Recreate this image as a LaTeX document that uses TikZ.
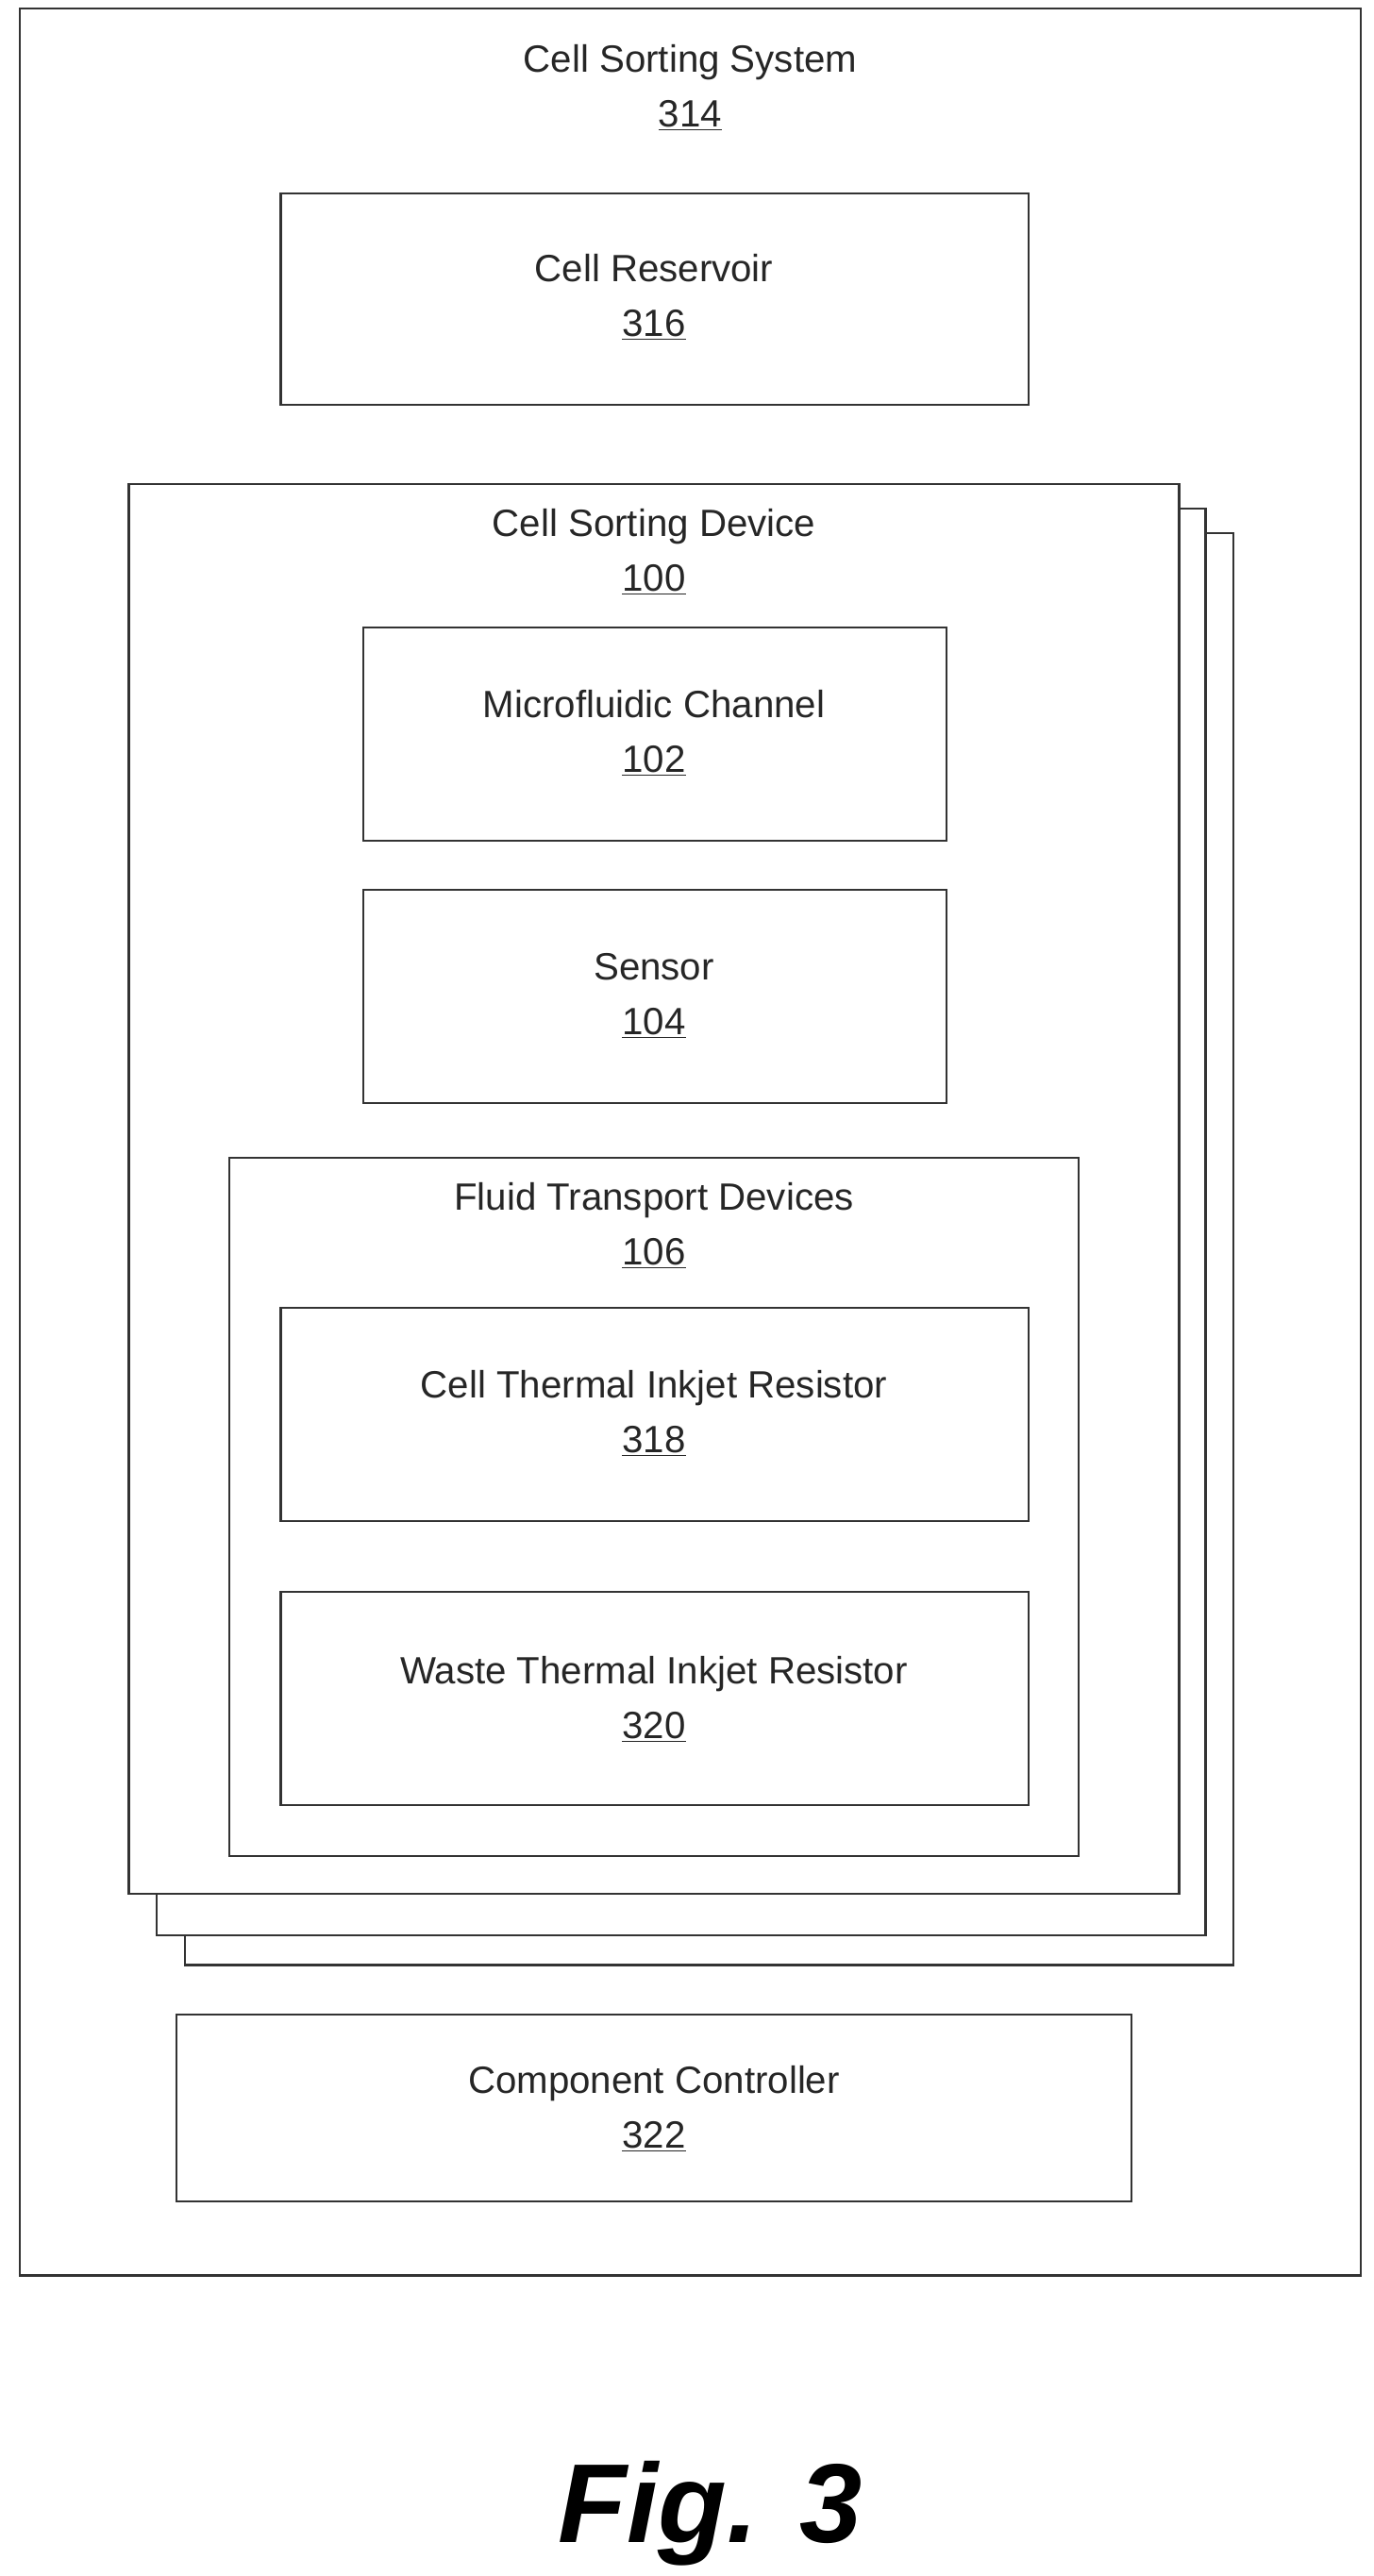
\documentclass[tikz,border=0pt]{standalone}
\usepackage{fontspec}
\setmainfont{Liberation Sans}
\begin{document}
\begin{tikzpicture}[x=1pt,y=-1pt,
  box/.style={draw=black!80,line width=1.3pt,fill=white},
  lbl/.style={font=\fontsize{23}{33}\selectfont,text=black!85,align=center}]
\useasboundingbox (0,0) rectangle (832,1560);
\draw[box] (12,5) rectangle (824,1378);
\node[lbl] (t314) at (418,53) {Cell Sorting System\\\underline{314}};
\draw[box] (170,117) rectangle (623,245);
\node[lbl] (t316) at (396,180) {Cell Reservoir\\\underline{316}};
\draw[box] (112,323) rectangle (747,1190);
\draw[box] (95,308) rectangle (730,1172);
\draw[box] (78,293) rectangle (714,1147);
\node[lbl] (t100) at (396,334) {Cell Sorting Device\\\underline{100}};
\draw[box] (220,380) rectangle (573,509);
\node[lbl] (t102) at (396,444) {Microfluidic Channel\\\underline{102}};
\draw[box] (220,539) rectangle (573,668);
\node[lbl] (t104) at (396,603) {Sensor\\\underline{104}};
\draw[box] (139,701) rectangle (653,1124);
\node[lbl] (t106) at (396,742) {Fluid Transport Devices\\\underline{106}};
\draw[box] (170,792) rectangle (623,921);
\node[lbl] (t318) at (396,856) {Cell Thermal Inkjet Resistor\\\underline{318}};
\draw[box] (170,964) rectangle (623,1093);
\node[lbl] (t320) at (396,1029) {Waste Thermal Inkjet Resistor\\\underline{320}};
\draw[box] (107,1220) rectangle (685,1333);
\node[lbl] (t322) at (396,1277) {Component Controller\\\underline{322}};
\node[font=\fontsize{68}{70}\selectfont\bfseries\itshape] (fig) at (430,1522) {Fig. 3};
\end{tikzpicture}
\end{document}
